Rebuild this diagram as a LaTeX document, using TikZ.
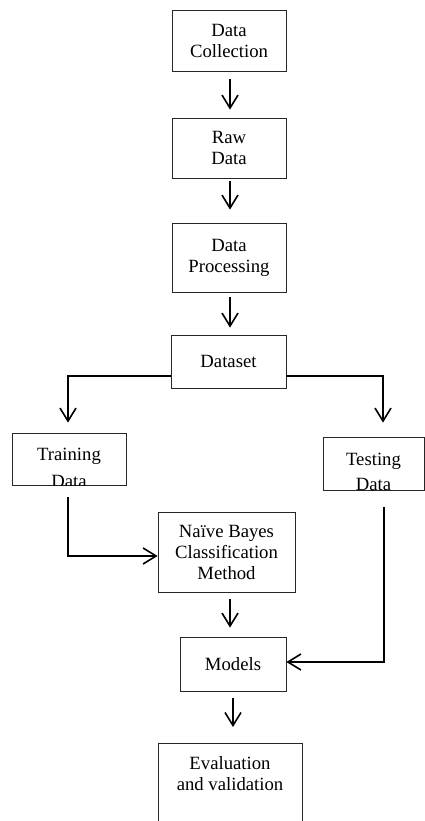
\documentclass[tikz,border=0pt]{standalone}
\usepackage{fontspec}
\setmainfont{Liberation Serif}
\usetikzlibrary{arrows.meta}
\begin{document}
\begin{tikzpicture}[x=1pt,y=-1pt,
  box/.style={draw=black!85, line width=0.8pt, rectangle, inner sep=0pt, align=center,
    font=\fontsize{18.7}{21}\selectfont},
  txt/.style={inner sep=0pt, align=center, font=\fontsize{18.7}{27}\selectfont},
  arr/.style={line width=1.6pt, -{Straight Barb[length=13pt,width=16pt,line width=1.6pt]}}]
\clip (0,0) rectangle (425,821);
\fill[white] (0,0) rectangle (425,821);

\node[box, minimum width=114, minimum height=61] (dc) at (229,40.5) {Data\\Collection};
\node[box, minimum width=114, minimum height=60] (rd) at (229,148) {Raw\\Data};
\node[box, minimum width=114, minimum height=69] (dp) at (229,257.5) {Data\\Processing};
\node[box, minimum width=115, minimum height=53] (ds) at (228.5,361.5) {Dataset};

\node[box, minimum width=114, minimum height=52] (tr) at (69,459) {};
\begin{scope}
  \clip (tr.south west) rectangle (tr.north east);
  \node[txt] (trt) at (69,468) {Training\\Data};
\end{scope}

\node[box, minimum width=101, minimum height=53] (te) at (373.5,463.5) {};
\begin{scope}
  \clip (te.south west) rectangle (te.north east);
  \node[txt, font=\fontsize{18.7}{25}\selectfont] (tet) at (373.5,471.5) {Testing\\Data};
\end{scope}

\node[box, minimum width=137, minimum height=80] (nb) at (226.5,552) {Naïve Bayes\\Classification\\Method};
\node[box, minimum width=106, minimum height=54] (mo) at (233,664) {Models};

\node[box, minimum width=144, minimum height=100, anchor=north] (ev) at (230,743) {};
\node[txt, font=\fontsize{18.7}{21}\selectfont] (evt) at (230,774) {Evaluation\\and validation};

% connectors
\draw[arr, shorten <=8pt, shorten >=8pt] ([xshift=1pt]dc.south) -- ([xshift=1pt]rd.north);
\draw[arr, shorten <=3pt, shorten >=13pt] ([xshift=1pt]rd.south) -- ([xshift=1pt]dp.north);
\draw[arr, shorten <=5pt, shorten >=7pt] ([xshift=1pt]dp.south) -- ([xshift=1.5pt]ds.north);

\draw[arr, shorten >=10pt] ([yshift=-14.5pt]ds.west) -| ([xshift=-1pt]tr.north);
\draw[arr, shorten >=14pt] ([yshift=-14.5pt]ds.east) -| ([xshift=9.5pt]te.north);

\draw[arr, shorten <=12pt] ([xshift=-1pt]tr.south) |- ([yshift=-4pt]nb.west);
\draw[arr, shorten <=17pt] ([xshift=10.5pt]te.south) |- ([yshift=2pt]mo.east);

\draw[arr, shorten <=7pt, shorten >=9pt] ([xshift=3.5pt]nb.south) -- ([xshift=-3pt]mo.north);
\draw[arr, shorten <=7pt, shorten >=16pt] (mo.south) -- (mo.south |- ev.north);
\end{tikzpicture}
\end{document}
